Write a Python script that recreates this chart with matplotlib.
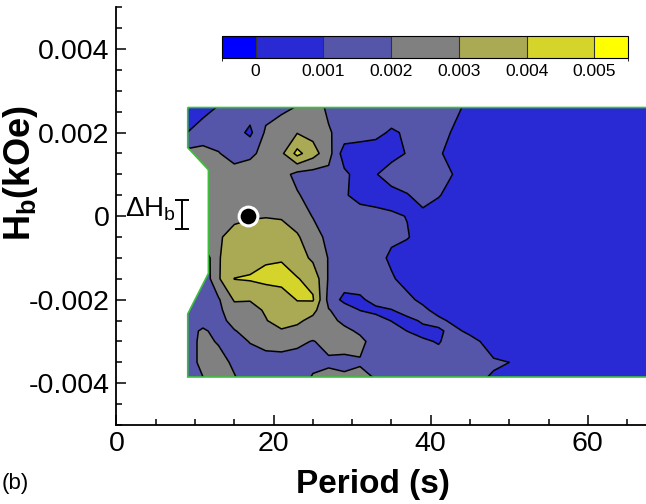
import numpy as np
import matplotlib
matplotlib.use('Agg')
import matplotlib.pyplot as plt
from matplotlib.colors import ListedColormap, BoundaryNorm
from matplotlib.cm import ScalarMappable
from matplotlib.patches import Polygon
from matplotlib.ticker import MultipleLocator, FuncFormatter

plt.rcParams['font.family'] = 'Liberation Sans'
plt.rcParams['mathtext.fontset'] = 'custom'
plt.rcParams['mathtext.rm'] = 'Liberation Sans'
plt.rcParams['mathtext.bf'] = 'Liberation Sans:bold'
plt.rcParams['mathtext.it'] = 'Liberation Sans:italic'

# grid nodes: period (s) and bias field (units of 0.001 kOe)
period = [9, 11, 13, 15, 17, 19, 21, 23, 25, 27, 29, 31, 33, 35, 37, 39, 41, 43, 45, 48, 52, 58, 68]
field = [-3.9, -3.5, -3.0, -2.75, -2.5, -2.25, -2.0, -1.5, -1.0, -0.5, 0.0, 0.5, 1.0, 1.5, 2.0, 2.62]

# map values (units of 0.001), one row per field value, bottom to top
map_rows = [
    [1.5, 1.95, 2.6, 2.1, 1.5, 1.5, 1.5, 1.8, 2.05, 2.3, 2.2, 2.3, 1.98, 1.6, 1.5, 1.4, 1.4, 1.3, 1.2, 0.9, 0.5, 0.5, 0.5],
    [1.5, 2.3, 2.4, 1.8, 1.5, 1.5, 1.5, 1.6, 1.9, 1.85, 1.75, 1.9, 1.7, 1.5, 1.4, 1.4, 1.3, 1.3, 1.2, 1.1, 0.9, 0.5, 0.5],
    [1.5, 2.3, 1.9, 1.6, 2.05, 2.4, 2.5, 2.2, 1.95, 2.3, 2.4, 2.3, 1.5, 1.5, 1.5, 1.1, 0.95, 1.3, 1.3, 0.6, 0.5, 0.5, 0.5],
    [1.5, 2.2, 1.6, 1.95, 2.3, 2.6, 2.9, 2.7, 2.5, 2.5, 2.3, 1.8, 1.5, 1.4, 0.99, 0.8, 0.9, 1.2, 0.8, 0.5, 0.5, 0.5, 0.5],
    [1.5, 1.5, 1.7, 2.3, 2.4, 2.95, 3.4, 3.2, 2.7, 2.4, 1.7, 1.5, 1.3, 0.97, 0.8, 1.1, 1.2, 0.8, 0.5, 0.5, 0.5, 0.5, 0.5],
    [1.5, 1.5, 1.8, 2.6, 2.7, 3.1, 3.5, 3.6, 3.3, 2.05, 1.6, 0.98, 0.8, 0.97, 1.3, 1.2, 0.7, 0.5, 0.5, 0.5, 0.5, 0.5, 0.5],
    [1.5, 1.6, 1.9, 3.1, 3.05, 3.2, 3.4, 4.05, 4.1, 1.7, 0.7, 0.85, 1.3, 1.4, 1.2, 0.8, 0.5, 0.5, 0.5, 0.5, 0.5, 0.5, 0.5],
    [1.5, 1.2, 2.9, 4.02, 4.1, 4.3, 4.4, 4.05, 3.7, 1.9, 1.6, 1.5, 1.4, 1.1, 0.7, 0.5, 0.5, 0.5, 0.5, 0.5, 0.5, 0.5, 0.5],
    [1.5, 1.2, 2.95, 3.4, 3.6, 3.85, 3.9, 3.5, 2.8, 1.95, 1.6, 1.5, 1.3, 0.85, 0.6, 0.5, 0.5, 0.5, 0.5, 0.5, 0.5, 0.5, 0.5],
    [2.5, 2.5, 2.9, 3.3, 3.5, 3.6, 3.5, 3.1, 2.5, 1.7, 1.5, 1.5, 1.4, 1.15, 1.05, 0.7, 0.5, 0.5, 0.5, 0.5, 0.5, 0.5, 0.5],
    [2.5, 2.6, 2.7, 2.8, 2.9, 2.95, 2.9, 2.6, 1.95, 1.6, 1.5, 1.4, 1.3, 1.1, 0.98, 0.8, 0.6, 0.5, 0.5, 0.5, 0.5, 0.5, 0.5],
    [2.5, 2.5, 2.6, 2.7, 2.8, 2.8, 2.6, 2.1, 1.6, 1.5, 1.1, 0.7, 0.6, 0.7, 0.95, 1.3, 1.05, 0.7, 0.5, 0.5, 0.5, 0.5, 0.5],
    [2.5, 2.5, 2.6, 2.4, 2.5, 2.6, 2.4, 1.7, 1.6, 1.7, 1.2, 0.6, 0.95, 1.4, 1.5, 1.5, 1.4, 0.95, 0.6, 0.5, 0.5, 0.5, 0.5],
    [2.3, 2.3, 2.05, 1.6, 1.8, 2.3, 2.8, 4.3, 3.4, 2.4, 0.5, 0.5, 0.6, 0.7, 1.05, 1.5, 1.1, 0.7, 0.5, 0.5, 0.5, 0.5, 0.5],
    [1.0, 1.5, 1.5, 1.4, 0.8, 2.15, 2.9, 2.95, 2.7, 2.1, 1.6, 1.4, 1.2, 0.9, 1.1, 1.5, 1.3, 0.9, 0.6, 0.5, 0.5, 0.5, 0.5],
    [0.5, 0.6, 1.05, 1.5, 1.5, 1.6, 1.6, 2.05, 2.5, 1.8, 1.6, 1.5, 1.5, 1.5, 1.5, 1.5, 1.4, 1.2, 0.8, 0.5, 0.5, 0.5, 0.5],
]

band_bounds = [-0.0005, 0, 0.001, 0.002, 0.003, 0.004, 0.005, 0.0055]
band_colors = ['#0000ff', '#2a2ad4', '#5555aa', '#808080', '#aaaa55', '#d4d42a', '#ffff00']
cbar_ticks = [0, 0.001, 0.002, 0.003, 0.004, 0.005]

# outline of the measured region (period, field in 0.001 kOe)
region_period = [9.07, 68, 68, 9.07, 9.07, 11.7, 11.7, 9.07]
region_field = [2.6, 2.6, -3.85, -3.85, -2.34, -1.37, 1.11, 1.64]

marker_period, marker_field = 16.7, 0.0
dhb_period, dhb_center, dhb_half = 8.4, 0.035, 0.35

P = np.array(period)
H = np.array(field) * 1e-3
Z = np.array(map_rows) * 1e-3

fig = plt.figure(figsize=(6.46, 5.04), dpi=100)
ax = fig.add_axes([0.1803, 0.1567, 0.8197, 0.8289])

region = Polygon(np.column_stack([region_period, np.array(region_field) * 1e-3]),
                 closed=True, facecolor='none', edgecolor='#3cc03c', lw=1.2,
                 transform=ax.transData, zorder=4)
ax.add_patch(region)

cs = ax.contourf(P, H, Z, levels=band_bounds, colors=band_colors, zorder=1)
cs.set_clip_path(region)
cl = ax.contour(P, H, Z, levels=band_bounds[2:6], colors='k', linewidths=1.1, zorder=2)
cl.set_clip_path(region)

ax.plot(marker_period, marker_field, 'o', ms=13.5, mfc='k', mec='white', mew=2.2, zorder=5)

# Delta H_b bracket
ax.errorbar(dhb_period, dhb_center * 1e-3, yerr=dhb_half * 1e-3, fmt='none',
            ecolor='k', elinewidth=1.4, capsize=5, capthick=1.4, clip_on=False)
ax.text(7.6, -0.00002, r'$\Delta$H$_{\mathrm{b}}$', fontsize=20, ha='right', va='baseline')

ax.set_xlim(0, 67.4)
ax.set_ylim(-0.005, 0.005)
ax.xaxis.set_major_locator(MultipleLocator(20))
ax.xaxis.set_minor_locator(MultipleLocator(5))
ax.yaxis.set_major_locator(MultipleLocator(0.002))
ax.yaxis.set_minor_locator(MultipleLocator(0.0005))
ax.yaxis.set_major_formatter(FuncFormatter(lambda v, p: '0' if abs(v) < 1e-9 else f'{v:.3f}'))
ax.tick_params(which='both', direction='in', top=False, right=False, labelsize=20.5, width=1.1)
ax.tick_params(which='major', length=7)
ax.tick_params(which='minor', length=4)
ax.tick_params(axis='y', pad=5)
ax.tick_params(axis='x', pad=4)
for side in ['top', 'right']:
    ax.spines[side].set_visible(False)
for side in ['left', 'bottom']:
    ax.spines[side].set_linewidth(1.3)

fig.text(21 / 646, 1 - 173 / 504, r'H$_{\mathbf{b}}$(kOe)', rotation=90, fontsize=26,
         fontweight='bold', ha='center', va='center')
fig.text(373 / 646, 1 - 485 / 504, 'Period (s)', fontsize=24, fontweight='bold',
         ha='center', va='center')
fig.text(0.003, 1 - 483 / 504, '(b)', fontsize=16, ha='left', va='center')

# colour legend
cax = fig.add_axes([0.3432, 0.8843, 0.6294, 0.0448])
sm = ScalarMappable(norm=BoundaryNorm(band_bounds, len(band_colors)),
                    cmap=ListedColormap(band_colors))
cb = fig.colorbar(sm, cax=cax, orientation='horizontal', ticks=cbar_ticks,
                  spacing='proportional', drawedges=True)
cb.ax.set_xticklabels(['0', '0.001', '0.002', '0.003', '0.004', '0.005'])
cb.ax.tick_params(length=0, pad=4, labelsize=12.5)
cb.outline.set_linewidth(0.8)
cb.dividers.set_color('#333333')
cb.dividers.set_linewidth(0.8)

fig.savefig('out.png', dpi=100)
